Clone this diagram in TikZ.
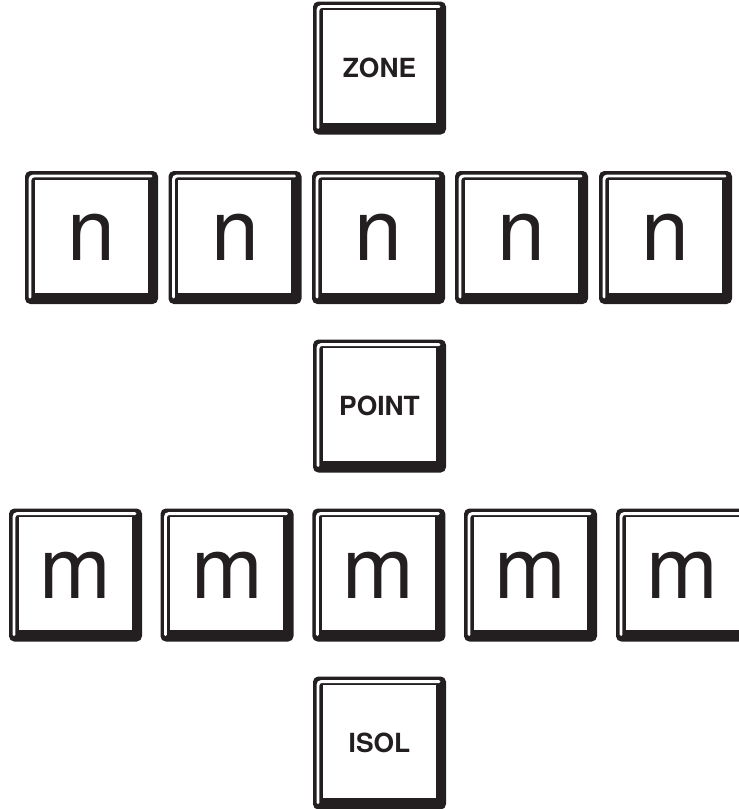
\documentclass[tikz,border=0pt]{standalone}
\usepackage{fontspec}
\setmainfont{TeX Gyre Heros}
\usetikzlibrary{calc}

\definecolor{keyblack}{RGB}{35,31,32}
\tikzset{
  keylabel/.style={font=\fontsize{15}{15}\selectfont\bfseries, text=keyblack, inner sep=0pt},
  keyletter/.style={font=\fontsize{49}{49}\selectfont, text=keyblack, inner sep=0pt},
}
% one key cap, centred at (#1,#2) in pixel units
\newcommand{\keycap}[2]{%
  \begin{scope}[shift={(#1,#2)}]
    \fill[keyblack, rounded corners=3pt] (-66.5,-66.5) rectangle (66.5,66.5);
    \draw[white, line width=1.7pt, line cap=round, rounded corners=2pt]
      (-61.5,59.5) -- (-61.5,-61.5) -- (59.5,-61.5);
    \fill[white] (-57,-58) rectangle (56,55);
  \end{scope}}

\begin{document}
\begin{tikzpicture}[x=0.02cm, y=-0.02cm]
    \useasboundingbox (0,0) rectangle (739,809);
    \clip (0,0) rectangle (739,809);
    % single keys
    \keycap{379.5}{68}
    \node[keylabel] (zone) at (379.5,68) {ZONE};
    \keycap{379.5}{406}
    \node[keylabel] (point) at (379.5,406) {POINT};
    \keycap{379.5}{743}
    \node[keylabel] (isol) at (379.5,743) {ISOL};
    % rows
    \foreach \i/\x in {1/91.5, 2/235, 3/378.5, 4/521.5, 5/665.5}
    {
      \keycap{\x}{237.5}
      \node[keyletter] (n\i) at (\x,237.5) {n};
    }
    \foreach \i/\x in {1/75.5, 2/227, 3/378.8, 4/530.5, 5/682.5}
    {
      \keycap{\x}{575}
      \node[keyletter] (m\i) at (\x,575) {m};
    }
  \end{tikzpicture}
\end{document}
